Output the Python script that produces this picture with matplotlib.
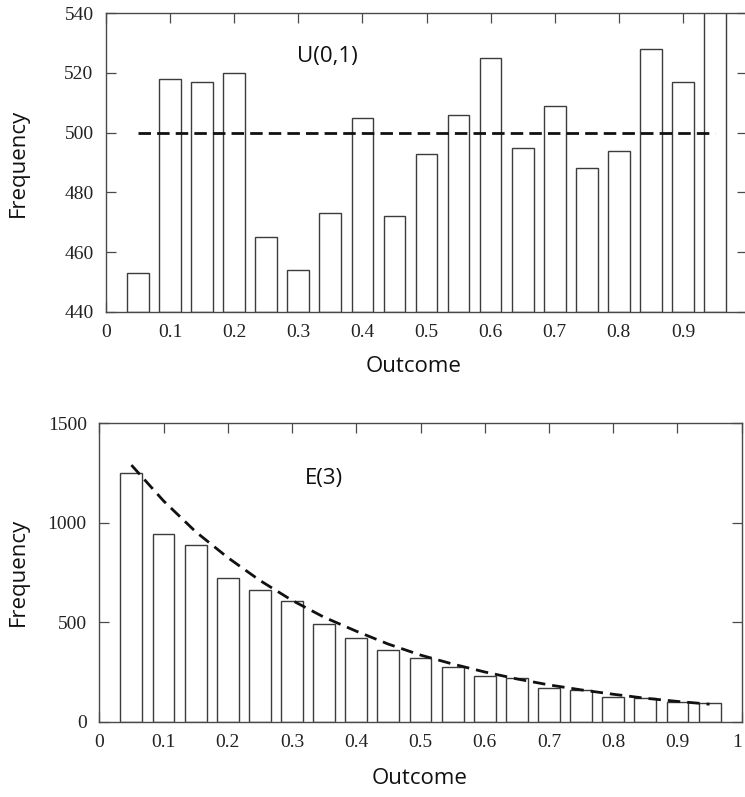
import matplotlib
matplotlib.use("Agg")
import matplotlib.pyplot as plt

# ---- data ----
bin_centers = [0.05, 0.10, 0.15, 0.20, 0.25, 0.30, 0.35, 0.40, 0.45, 0.50,
               0.55, 0.60, 0.65, 0.70, 0.75, 0.80, 0.85, 0.90, 0.95]
uniform_counts = [453, 518, 517, 520, 465, 454, 473, 505, 472, 493,
                  506, 525, 495, 509, 488, 494, 528, 517, 550]
uniform_expected = [500, 500]
uniform_expected_x = [0.05, 0.95]

exp_counts = [1249, 943, 889, 722, 661, 606, 489, 421, 358, 321,
              274, 231, 218, 171, 160, 125, 121, 97, 95]
exp_expected = [1290, 1110, 955, 825, 710, 610, 525, 455, 390, 335,
                290, 250, 215, 185, 160, 138, 118, 102, 88]

top_xticks = [0, 0.1, 0.2, 0.3, 0.4, 0.5, 0.6, 0.7, 0.8, 0.9]
top_xticklabels = ["0", "0.1", "0.2", "0.3", "0.4", "0.5", "0.6", "0.7", "0.8", "0.9"]
top_yticks = [440, 460, 480, 500, 520, 540]
bot_xticks = [0, 0.1, 0.2, 0.3, 0.4, 0.5, 0.6, 0.7, 0.8, 0.9, 1.0]
bot_xticklabels = ["0", "0.1", "0.2", "0.3", "0.4", "0.5", "0.6", "0.7", "0.8", "0.9", "1"]
bot_yticks = [0, 500, 1000, 1500]

W, H = 745, 797
fig = plt.figure(figsize=(W / 100, H / 100), dpi=100)

SERIF = "Liberation Serif"
SANS = "Open Sans"
spine_col = "#4a4a4a"
edge_col = "#3c3c3c"
bar_w = 0.034


def style(ax):
    for s in ax.spines.values():
        s.set_color(spine_col)
        s.set_linewidth(1.0)
    ax.tick_params(direction="in", length=7, width=0.9, color=spine_col,
                   top=True, right=True, labelsize=14, pad=9, labelcolor="#222222")
    for lab in ax.get_xticklabels() + ax.get_yticklabels():
        lab.set_fontfamily(SERIF)


# ---- top panel ----
ax1 = fig.add_axes([106 / W, 1 - 311.7 / H, 641 / W, (311.7 - 13.3) / H])
ax1.bar(bin_centers, [v - 440 for v in uniform_counts], bottom=440, width=bar_w,
        color="white", edgecolor=edge_col, linewidth=1.0, zorder=2)
ax1.plot(uniform_expected_x, uniform_expected, color="#111111", lw=2.0,
         dashes=(4.5, 2.2), zorder=3)
ax1.set_xlim(0, 1.0)
ax1.set_ylim(440, 540)
ax1.set_xticks(top_xticks)
ax1.set_xticklabels(top_xticklabels)
ax1.set_yticks(top_yticks)
style(ax1)
ax1.text(0.346, 525.5, "U(0,1)", fontsize=16, family=SANS, ha="center", va="center",
         color="#111111")

# ---- bottom panel ----
ax2 = fig.add_axes([99.3 / W, 1 - 721.7 / H, 642.4 / W, (721.7 - 423.3) / H])
ax2.bar(bin_centers, exp_counts, width=bar_w, color="white", edgecolor=edge_col,
        linewidth=1.0, zorder=2)
ax2.plot(bin_centers, exp_expected, color="#111111", lw=2.0, dashes=(4.5, 2.5), zorder=3)
ax2.set_xlim(0, 1.0)
ax2.set_ylim(0, 1500)
ax2.set_xticks(bot_xticks)
ax2.set_xticklabels(bot_xticklabels)
ax2.set_yticks(bot_yticks)
style(ax2)
ax2.get_xticklabels()[-1].set_ha("right")
ax2.text(0.35, 1221, "E(3)", fontsize=16, family=SANS, ha="center", va="center",
         color="#111111")

# ---- axis titles ----
fig.text(18 / W, 1 - 163 / H, "Frequency", rotation=90, fontsize=16, family=SANS,
         ha="center", va="center", color="#111111")
fig.text(18 / W, 1 - 572 / H, "Frequency", rotation=90, fontsize=16, family=SANS,
         ha="center", va="center", color="#111111")
fig.text(414 / W, 1 - 367 / H, "Outcome", fontsize=16, family=SANS,
         ha="center", va="center", color="#111111")
fig.text(420 / W, 1 - 778 / H, "Outcome", fontsize=16, family=SANS,
         ha="center", va="center", color="#111111")

fig.savefig("out.png", dpi=100)
